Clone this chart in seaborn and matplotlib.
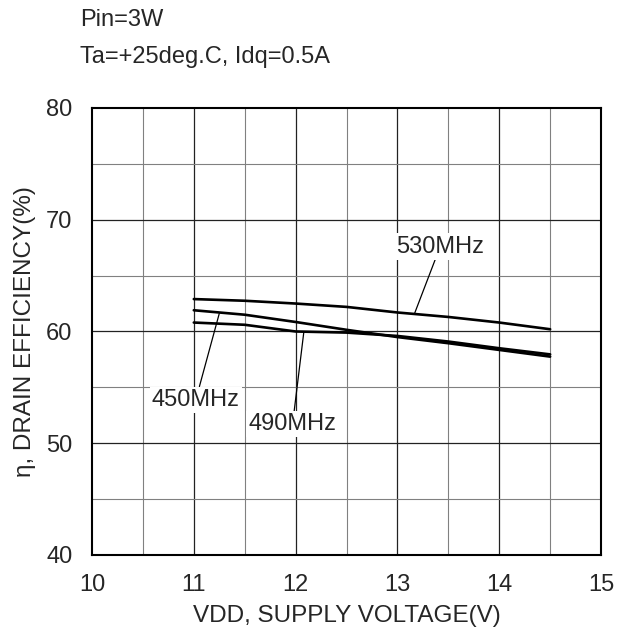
import numpy as np
import pandas as pd
import seaborn as sns
import matplotlib.pyplot as plt

# valores
vdd = [11.0, 11.5, 12.0, 12.5, 13.0, 13.5, 14.0, 14.5]
eff_450 = [61.9, 61.5, 60.85, 60.15, 59.5, 58.95, 58.35, 57.75]
eff_490 = [60.8, 60.6, 60.0, 59.9, 59.6, 59.1, 58.5, 57.95]
eff_530 = [62.9, 62.75, 62.5, 62.2, 61.7, 61.3, 60.8, 60.2]

x_ticks = [10, 11, 12, 13, 14, 15]
y_ticks = [40, 50, 60, 70, 80]

df = pd.DataFrame({
    'vdd': vdd * 3,
    'eff': eff_450 + eff_490 + eff_530,
    'freq': ['450MHz'] * 8 + ['490MHz'] * 8 + ['530MHz'] * 8,
})

sns.set_style('white')
plt.rcParams['font.family'] = ['Liberation Sans', 'DejaVu Sans']

fig = plt.figure(figsize=(6.19, 6.39), dpi=100)
ax = fig.add_axes([0.1486, 0.1315, 0.8224, 0.6995])

# grade secundária e principal
for v in np.arange(10.5, 15, 1.0):
    ax.axvline(v, color='#808080', lw=0.8, zorder=1)
for v in [11, 12, 13, 14]:
    ax.axvline(v, color='#222222', lw=0.9, zorder=1)
for v in [45, 55, 65, 75]:
    ax.axhline(v, color='#808080', lw=0.8, zorder=1)
for v in [50, 60, 70]:
    ax.axhline(v, color='#222222', lw=0.9, zorder=1)

sns.lineplot(data=df, x='vdd', y='eff', units='freq', estimator=None,
             color='black', lw=1.9, ax=ax, zorder=3)

ax.set_xlim(10, 15)
ax.set_ylim(40, 80)
ax.set_xticks(x_ticks)
ax.set_yticks(y_ticks)
ax.tick_params(length=0, labelsize=17)
ax.tick_params(axis='x', pad=14)
ax.tick_params(axis='y', pad=14)
for s in ax.spines.values():
    s.set_linewidth(1.5)
    s.set_color('black')
    s.set_zorder(5)

ax.set_xlabel('VDD, SUPPLY VOLTAGE(V)', fontsize=17.5, labelpad=6)
ax.set_ylabel('η, DRAIN EFFICIENCY(%)', fontsize=17.5, labelpad=7)

box = dict(facecolor='white', edgecolor='none', pad=1.5)
arrow = dict(arrowstyle='-', color='black', lw=0.9, shrinkA=0, shrinkB=0)
ax.annotate('530MHz', xy=(13.17, 61.65), xytext=(13.42, 67.6), fontsize=17,
            ha='center', va='center', bbox=box, arrowprops=arrow, zorder=4)
ax.annotate('450MHz', xy=(11.25, 61.6), xytext=(11.02, 53.9), fontsize=17,
            ha='center', va='center', bbox=box, arrowprops=arrow, zorder=4)
ax.annotate('490MHz', xy=(12.08, 59.9), xytext=(11.97, 51.7), fontsize=17,
            ha='center', va='center', bbox=box, arrowprops=arrow, zorder=4)

fig.text(80 / 619, 1 - 20 / 639, 'Pin=3W', fontsize=17, ha='left', va='center')
fig.text(80 / 619, 1 - 57 / 639, 'Ta=+25deg.C, Idq=0.5A', fontsize=17,
         ha='left', va='center')

fig.savefig('out.png', dpi=100)
